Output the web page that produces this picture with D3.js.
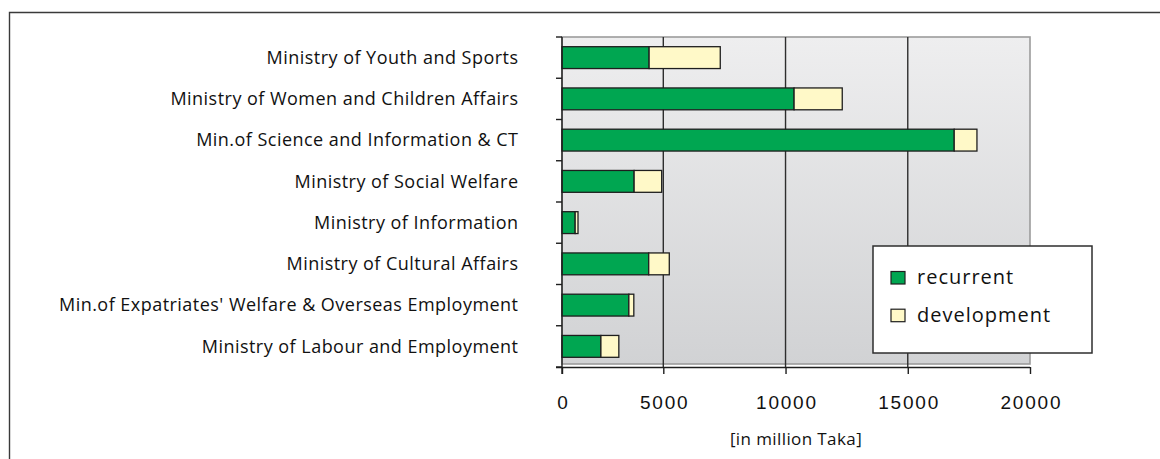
<!DOCTYPE html>
<html>
<head>
<meta charset="utf-8">
<script src="https://cdn.jsdelivr.net/npm/d3@7"></script>
<style>
  html, body { margin: 0; padding: 0; background: #ffffff; }
  svg { display: block; font-family: "Open Sans", "DejaVu Sans", sans-serif; }
</style>
</head>
<body>
<svg id="chart" width="1160" height="459"></svg>
<script>
// Budget by ministry, split into recurrent and development spending (million Taka)
const ministries = [
  "Ministry of Youth and Sports",
  "Ministry of Women and Children Affairs",
  "Min.of Science and Information & CT",
  "Ministry of Social Welfare",
  "Ministry of Information",
  "Ministry of Cultural Affairs",
  "Min.of Expatriates' Welfare & Overseas Employment",
  "Ministry of Labour and Employment"
];
const recurrent   = [4300, 10350, 16900, 3560, 650, 4280, 3300, 1920];
const development = [3030, 1970,  930,   1360, 140, 965,  245,  885];
const seriesNames = ["recurrent", "development"];
const xTicks = [0, 5000, 10000, 15000, 20000];
const axisTitle = "[in million Taka]";

const colors = { recurrent: "#00a651", development: "#fff9c8" };

const svg = d3.select("#chart");

// outer frame (top and left edges are visible)
svg.append("path")
  .attr("d", "M9.5,459 V12.5 H1160")
  .attr("fill", "none")
  .attr("stroke", "#3a3a3a")
  .attr("stroke-width", 1.4);

const plot = { left: 562, right: 1030, top: 37, bottom: 367 };

// value axis: the first interval is drawn narrower than the others
const x = d3.scaleLinear()
  .domain([0, 5000, 20000])
  .range([plot.left, 663.3, plot.right]);

const y = d3.scaleBand()
  .domain(ministries)
  .range([plot.top, plot.bottom])
  .paddingInner(0.47)
  .paddingOuter(0.235);

// plot background gradient
const defs = svg.append("defs");
const grad = defs.append("linearGradient")
  .attr("id", "plotBg").attr("x1", 0).attr("y1", 0).attr("x2", 0).attr("y2", 1);
grad.append("stop").attr("offset", "0%").attr("stop-color", "#eeeeef");
grad.append("stop").attr("offset", "100%").attr("stop-color", "#d1d2d4");

svg.append("rect")
  .attr("x", plot.left).attr("y", plot.top)
  .attr("width", plot.right - plot.left)
  .attr("height", plot.bottom - 3 - plot.top)
  .attr("fill", "url(#plotBg)")
  .attr("stroke", "#9c9c9c")
  .attr("stroke-width", 1.6);

// vertical gridlines
svg.append("g")
  .selectAll("line")
  .data(xTicks.slice(1, -1))
  .join("line")
  .attr("x1", d => x(d)).attr("x2", d => x(d))
  .attr("y1", plot.top).attr("y2", plot.bottom)
  .attr("stroke", "#2e2e2e")
  .attr("stroke-width", 1.4);

// stacked bars
const stack = d3.stack().keys(seriesNames);
const rows = ministries.map((m, i) => ({ name: m, recurrent: recurrent[i], development: development[i] }));
const layers = stack(rows);

svg.append("g")
  .selectAll("g")
  .data(layers)
  .join("g")
  .attr("fill", d => colors[d.key])
  .selectAll("rect")
  .data(d => d)
  .join("rect")
  .attr("x", d => x(d[0]))
  .attr("y", d => y(d.data.name))
  .attr("width", d => x(d[1]) - x(d[0]))
  .attr("height", y.bandwidth())
  .attr("stroke", "#1e1e1e")
  .attr("stroke-width", 1.3);

// x axis
const xAxis = svg.append("g")
  .attr("transform", `translate(0,${plot.bottom})`)
  .call(d3.axisBottom(x).tickValues(xTicks).tickFormat(d3.format("d")).tickSize(7).tickSizeOuter(0).tickPadding(22));
xAxis.select(".domain").attr("stroke", "#1e1e1e").attr("stroke-width", 1.4)
  .attr("d", `M${plot.left - 6},0.5H${plot.right}`);
xAxis.selectAll(".tick line").attr("stroke", "#1e1e1e").attr("stroke-width", 1.4);
xAxis.selectAll(".tick text")
  .attr("fill", "#111")
  .attr("dx", "0.9px")
  .style("font-size", "19px")
  .attr("letter-spacing", "1.8px");

// y axis with boundary ticks between categories
const yAxisG = svg.append("g");
yAxisG.append("line")
  .attr("x1", plot.left).attr("x2", plot.left)
  .attr("y1", plot.top).attr("y2", plot.bottom + 7)
  .attr("stroke", "#1e1e1e").attr("stroke-width", 1.4);
const boundaries = d3.range(ministries.length + 1).map(i => plot.top + i * (plot.bottom - plot.top) / ministries.length);
yAxisG.selectAll("line.tk")
  .data(boundaries)
  .join("line")
  .attr("class", "tk")
  .attr("x1", plot.left - 6).attr("x2", plot.left)
  .attr("y1", d => d).attr("y2", d => d)
  .attr("stroke", "#1e1e1e").attr("stroke-width", 1.4);

yAxisG.selectAll("text")
  .data(ministries)
  .join("text")
  .attr("x", 518.5)
  .attr("y", d => y(d) + y.bandwidth() / 2)
  .attr("dy", "0.35em")
  .attr("text-anchor", "end")
  .attr("fill", "#111")
  .style("font-size", "18px")
  .attr("letter-spacing", "0.47px")
  .text(d => d);

// axis title
svg.append("text")
  .attr("x", 796).attr("y", 445)
  .attr("text-anchor", "middle")
  .attr("fill", "#111")
  .style("font-size", "17px")
  .attr("letter-spacing", "0.4px")
  .text(axisTitle);

// legend
const legend = svg.append("g");
legend.append("rect")
  .attr("x", 873).attr("y", 246)
  .attr("width", 219).attr("height", 107)
  .attr("fill", "#ffffff")
  .attr("stroke", "#2e2e2e")
  .attr("stroke-width", 1.5);
const items = legend.selectAll("g.item")
  .data(seriesNames)
  .join("g")
  .attr("class", "item")
  .attr("transform", (d, i) => `translate(891,${284 + i * 37.7})`);
items.append("rect")
  .attr("y", -12.5)
  .attr("width", 14).attr("height", 12.5)
  .attr("fill", d => colors[d])
  .attr("stroke", "#1e1e1e")
  .attr("stroke-width", 1.2);
items.append("text")
  .attr("x", 26).attr("y", 0)
  .attr("fill", "#111")
  .style("font-size", "20px")
  .attr("letter-spacing", "1px")
  .text(d => d);
</script>
</body>
</html>
